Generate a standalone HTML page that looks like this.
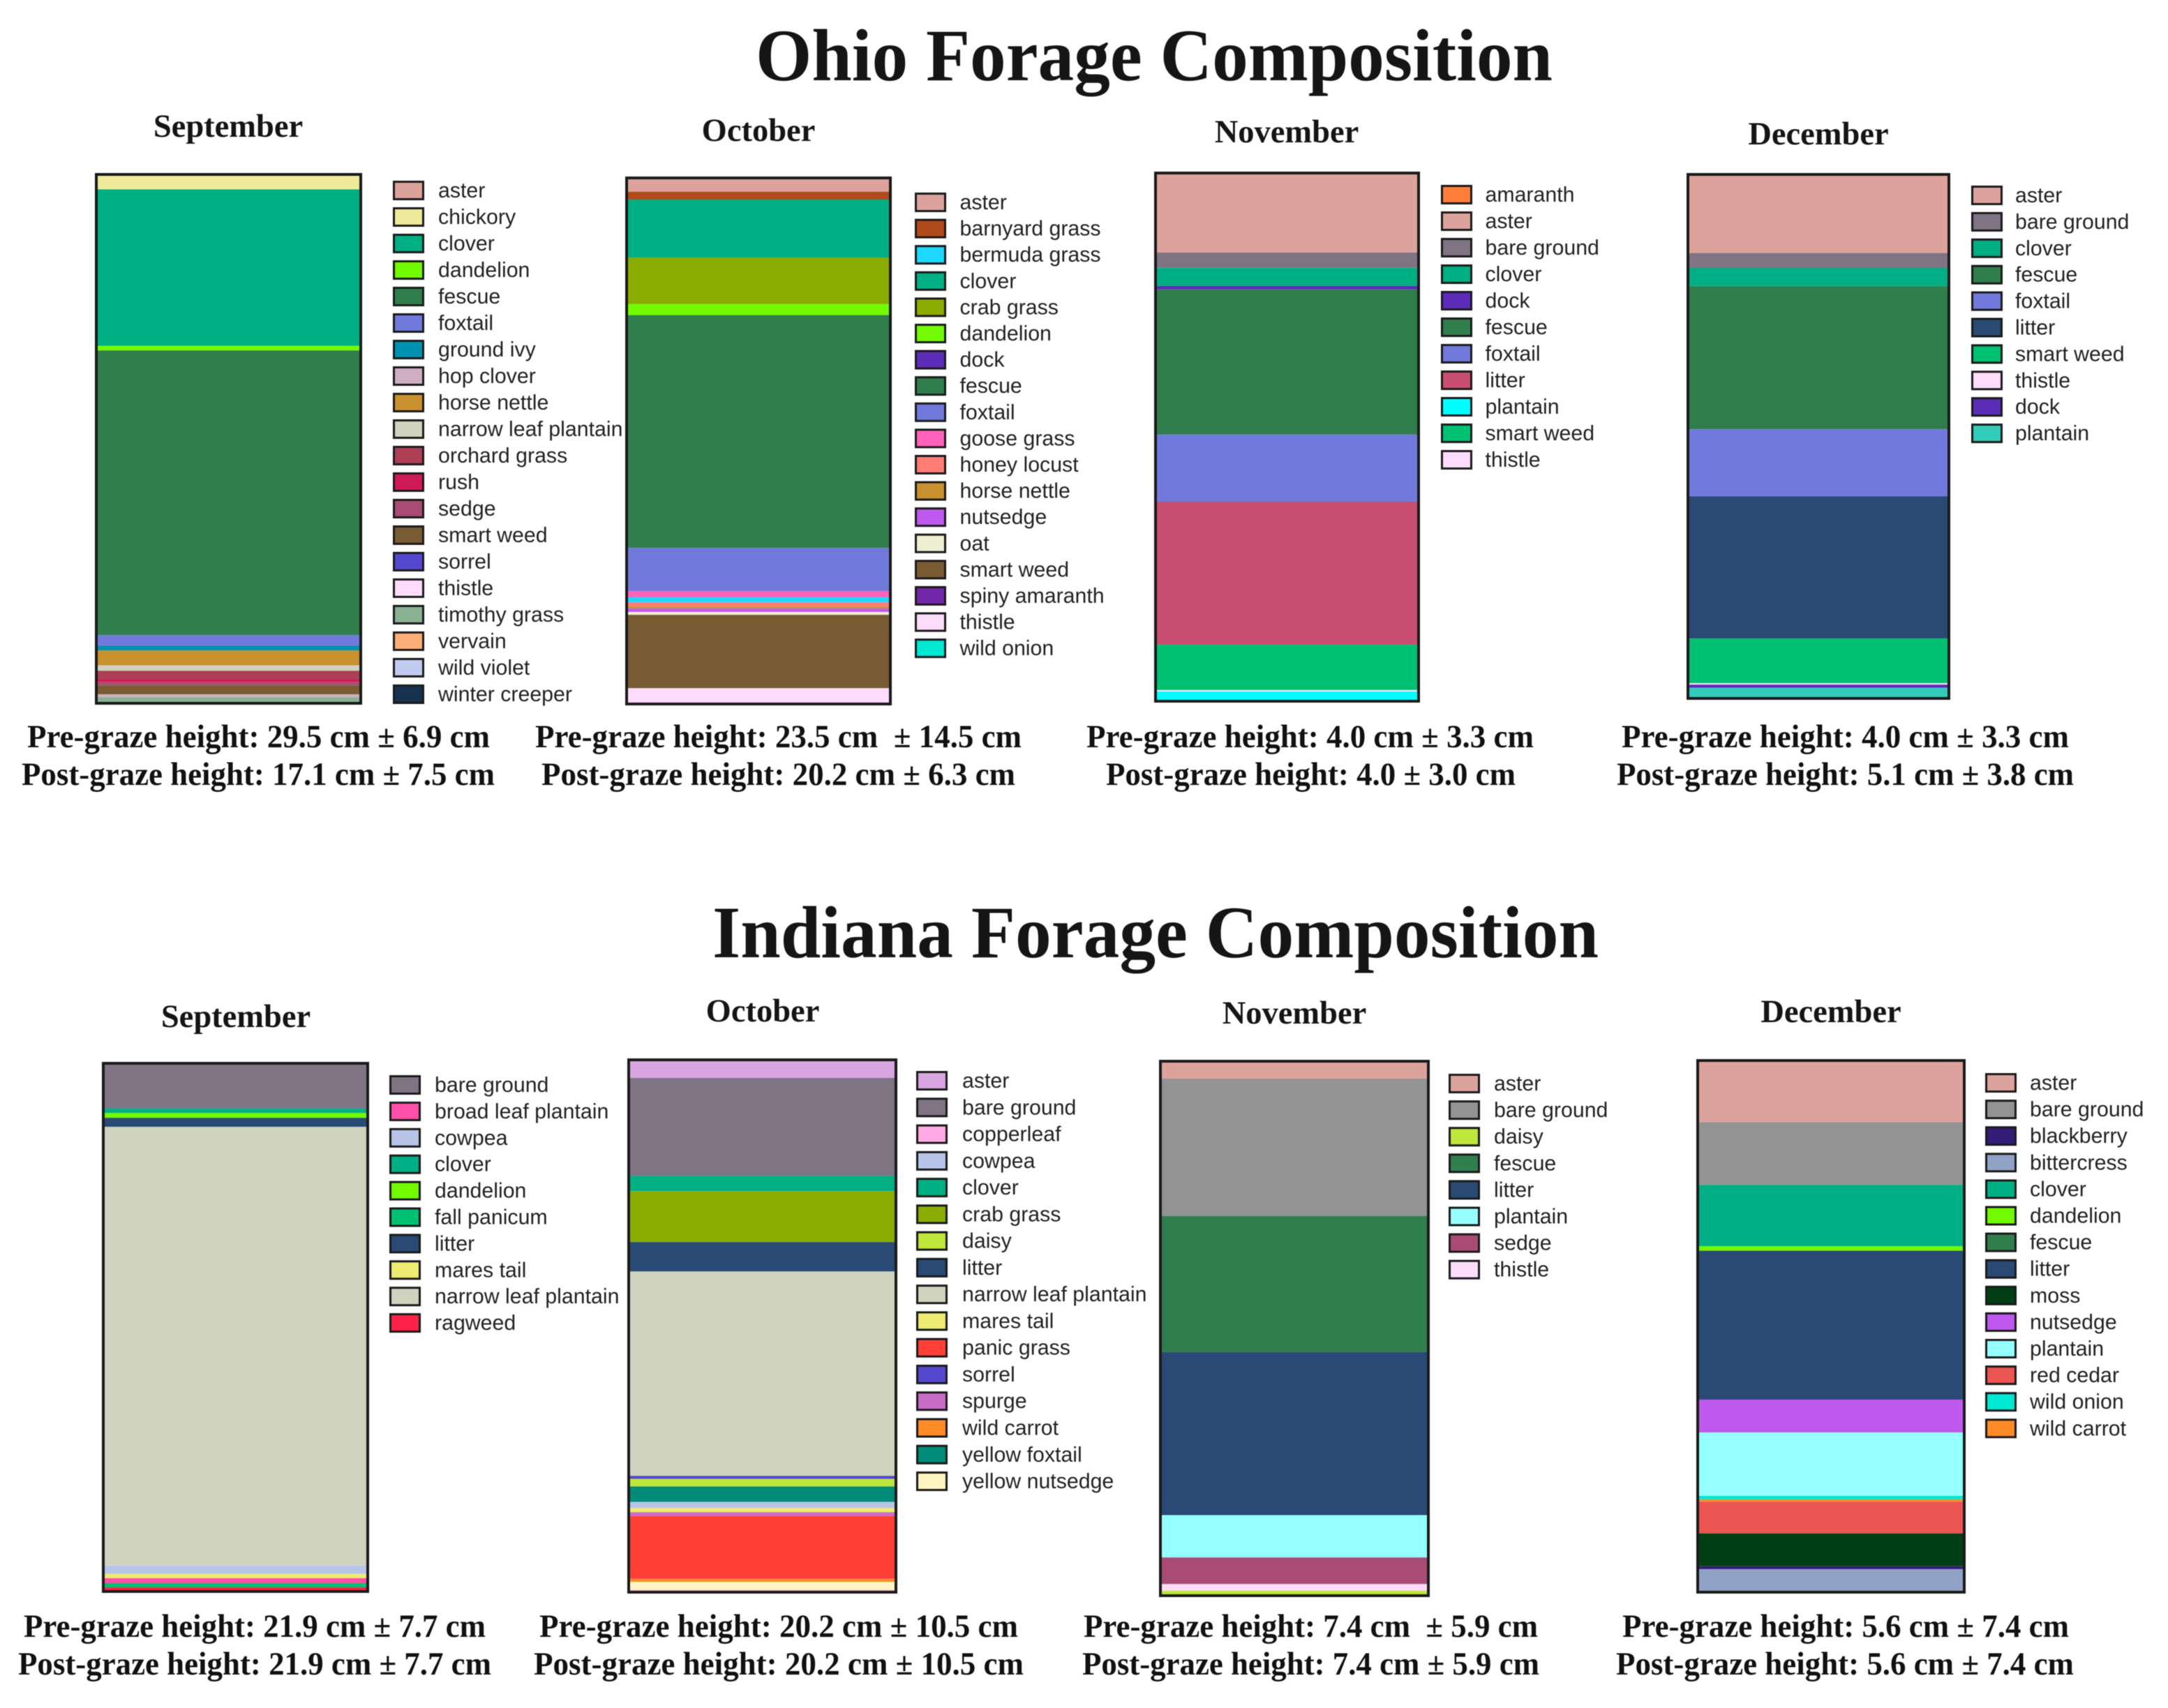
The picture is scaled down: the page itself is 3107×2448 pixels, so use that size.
<!DOCTYPE html>
<html lang="en">
<head>
<meta charset="utf-8">
<title>Ohio and Indiana Forage Composition</title>
<style>
html,body{margin:0;padding:0;background:#fff;}
svg{display:block;filter:blur(0.6px);}
.title{font:bold 106px "Liberation Serif",serif;fill:#151515;}
.month{font:bold 46.5px "Liberation Serif",serif;fill:#151515;text-anchor:middle;}
.height{font:bold 47px "Liberation Serif",serif;fill:#111;white-space:pre;}
.legend-text{font:30.3px "Liberation Sans",sans-serif;fill:#222;}
</style>
</head>
<body>
<svg id="chart" xmlns="http://www.w3.org/2000/svg" width="3107" height="2448" viewBox="0 0 3107 2448">
  <text class="title" x="1083" y="115" textLength="1142" lengthAdjust="spacingAndGlyphs">Ohio Forage Composition</text>
  <text class="title" x="1021" y="1372" textLength="1270" lengthAdjust="spacingAndGlyphs">Indiana Forage Composition</text>

  <text class="month" x="327" y="196">September</text>
  <text class="month" x="1087" y="202">October</text>
  <text class="month" x="1844" y="204">November</text>
  <text class="month" x="2606" y="207">December</text>
  <text class="month" x="338" y="1472">September</text>
  <text class="month" x="1093" y="1464">October</text>
  <text class="month" x="1855" y="1467">November</text>
  <text class="month" x="2624" y="1465">December</text>

  <text class="height" x="39" y="1071" textLength="663" lengthAdjust="spacingAndGlyphs">Pre-graze height: 29.5 cm ± 6.9 cm</text>
  <text class="height" x="31" y="1125" textLength="678" lengthAdjust="spacingAndGlyphs">Post-graze height: 17.1 cm ± 7.5 cm</text>
  <text class="height" x="767" y="1071" textLength="697" lengthAdjust="spacingAndGlyphs">Pre-graze height: 23.5 cm  ± 14.5 cm</text>
  <text class="height" x="776" y="1125" textLength="679" lengthAdjust="spacingAndGlyphs">Post-graze height: 20.2 cm ± 6.3 cm</text>
  <text class="height" x="1557" y="1071" textLength="641" lengthAdjust="spacingAndGlyphs">Pre-graze height: 4.0 cm ± 3.3 cm</text>
  <text class="height" x="1585" y="1125" textLength="587" lengthAdjust="spacingAndGlyphs">Post-graze height: 4.0 ± 3.0 cm</text>
  <text class="height" x="2324" y="1071" textLength="641" lengthAdjust="spacingAndGlyphs">Pre-graze height: 4.0 cm ± 3.3 cm</text>
  <text class="height" x="2317" y="1125" textLength="655" lengthAdjust="spacingAndGlyphs">Post-graze height: 5.1 cm ± 3.8 cm</text>

  <text class="height" x="34" y="2346" textLength="662" lengthAdjust="spacingAndGlyphs">Pre-graze height: 21.9 cm ± 7.7 cm</text>
  <text class="height" x="26" y="2400" textLength="678" lengthAdjust="spacingAndGlyphs">Post-graze height: 21.9 cm ± 7.7 cm</text>
  <text class="height" x="773" y="2346" textLength="686" lengthAdjust="spacingAndGlyphs">Pre-graze height: 20.2 cm ± 10.5 cm</text>
  <text class="height" x="765" y="2400" textLength="702" lengthAdjust="spacingAndGlyphs">Post-graze height: 20.2 cm ± 10.5 cm</text>
  <text class="height" x="1553" y="2346" textLength="651" lengthAdjust="spacingAndGlyphs">Pre-graze height: 7.4 cm  ± 5.9 cm</text>
  <text class="height" x="1551" y="2400" textLength="655" lengthAdjust="spacingAndGlyphs">Post-graze height: 7.4 cm ± 5.9 cm</text>
  <text class="height" x="2325" y="2346" textLength="640" lengthAdjust="spacingAndGlyphs">Pre-graze height: 5.6 cm ± 7.4 cm</text>
  <text class="height" x="2316" y="2400" textLength="656" lengthAdjust="spacingAndGlyphs">Post-graze height: 5.6 cm ± 7.4 cm</text>
</svg>
<script>
// Ohio, September
const ohioSepStack = ["chickory","clover","dandelion","fescue","foxtail","ground ivy","horse nettle","narrow leaf plantain","orchard grass","rush","sedge","smart weed","hop clover","timothy grass","vervain"];
const ohioSepValues = [2.7,29.6,0.9,53.9,2.0,0.9,2.8,1.05,1.6,0.5,0.65,1.7,0.55,0.9,0.3];
const ohioSepLegend = ["aster","chickory","clover","dandelion","fescue","foxtail","ground ivy","hop clover","horse nettle","narrow leaf plantain","orchard grass","rush","sedge","smart weed","sorrel","thistle","timothy grass","vervain","wild violet","winter creeper"];

// Ohio, October
const ohioOctStack = ["aster","barnyard grass","clover","crab grass","dandelion","fescue","foxtail","goose grass","bermuda grass","honey locust","horse nettle","nutsedge","oat","smart weed","thistle"];
const ohioOctValues = [2.5,1.5,11.05,8.9,2.1,44.4,8.25,1.2,0.95,0.8,0.4,0.65,0.55,14.0,2.8];
const ohioOctLegend = ["aster","barnyard grass","bermuda grass","clover","crab grass","dandelion","dock","fescue","foxtail","goose grass","honey locust","horse nettle","nutsedge","oat","smart weed","spiny amaranth","thistle","wild onion"];

// Ohio, November
const ohioNovStack = ["aster","bare ground","clover","dock","fescue","foxtail","litter","smart weed","thistle","plantain"];
const ohioNovValues = [14.85,2.9,3.45,0.65,27.6,12.75,27.2,8.6,0.3,1.7];
const ohioNovLegend = ["amaranth","aster","bare ground","clover","dock","fescue","foxtail","litter","plantain","smart weed","thistle"];

// Ohio, December
const ohioDecStack = ["aster","bare ground","clover","fescue","foxtail","litter","smart weed","thistle","dock","plantain"];
const ohioDecValues = [14.8,2.85,3.5,27.4,12.85,27.25,8.55,0.3,0.6,1.95];
const ohioDecLegend = ["aster","bare ground","clover","fescue","foxtail","litter","smart weed","thistle","dock","plantain"];

// Indiana, September
const indianaSepStack = ["bare ground","clover","dandelion","litter","narrow leaf plantain","cowpea","mares tail","broad leaf plantain","fall panicum","ragweed"];
const indianaSepValues = [8.3,0.85,0.95,1.7,83.4,1.6,0.8,0.95,0.8,0.65];
const indianaSepLegend = ["bare ground","broad leaf plantain","cowpea","clover","dandelion","fall panicum","litter","mares tail","narrow leaf plantain","ragweed"];

// Indiana, October
const indianaOctStack = ["aster","bare ground","clover","crab grass","litter","narrow leaf plantain","sorrel","daisy","yellow foxtail","cowpea","mares tail","spurge","panic grass","wild carrot","yellow nutsedge","copperleaf"];
const indianaOctValues = [3.15,18.45,2.9,9.6,5.55,38.55,0.55,1.45,2.9,1.15,0.8,0.7,11.85,0.6,1.5,0.35];
const indianaOctLegend = ["aster","bare ground","copperleaf","cowpea","clover","crab grass","daisy","litter","narrow leaf plantain","mares tail","panic grass","sorrel","spurge","wild carrot","yellow foxtail","yellow nutsedge"];

// Indiana, November
const indianaNovStack = ["aster","bare ground","fescue","litter","plantain","sedge","thistle","daisy"];
const indianaNovValues = [3.0,25.8,25.55,30.65,7.95,5.0,1.25,0.8];
const indianaNovLegend = ["aster","bare ground","daisy","fescue","litter","plantain","sedge","thistle"];

// Indiana, December
const indianaDecStack = ["aster","bare ground","clover","dandelion","litter","nutsedge","plantain","wild onion","wild carrot","red cedar","moss","blackberry","bittercress"];
const indianaDecValues = [11.4,11.85,11.6,0.85,28.15,6.2,12.0,0.65,0.45,6.0,6.2,0.55,4.1];
const indianaDecLegend = ["aster","bare ground","blackberry","bittercress","clover","dandelion","fescue","litter","moss","nutsedge","plantain","red cedar","wild onion","wild carrot"];

// Species colours and per-panel exceptions
const speciesColors = {
  "aster":"#dba39c","chickory":"#eeea9a","clover":"#00b084","dandelion":"#72fb00","fescue":"#317e4d","foxtail":"#717adb",
  "ground ivy":"#0090b0","hop clover":"#cfaec4","horse nettle":"#c8902e","narrow leaf plantain":"#cfd3be","orchard grass":"#ad3f54",
  "rush":"#cf1a57","sedge":"#a94b75","smart weed":"#795b33","sorrel":"#5448cf","thistle":"#fcdcfa","timothy grass":"#8ab292",
  "vervain":"#fbae75","wild violet":"#c2cbf0","winter creeper":"#17324f","barnyard grass":"#b04a1a","bermuda grass":"#1ed8ff",
  "crab grass":"#8aab00","dock":"#5c2db8","goose grass":"#ff62b8","honey locust":"#ff7d75","nutsedge":"#bf58ec","oat":"#eeeed2",
  "spiny amaranth":"#7027a8","wild onion":"#00e8d2","amaranth":"#ff7f3a","bare ground":"#807384","litter":"#294a75",
  "plantain":"#96ffff","broad leaf plantain":"#ff4fa8","cowpea":"#b8c5e8","fall panicum":"#00c072","mares tail":"#eeeb73",
  "ragweed":"#ff2248","copperleaf":"#ffaae5","daisy":"#bfe63a","panic grass":"#ff3f38","spurge":"#c86cc8","wild carrot":"#ff8a28",
  "yellow foxtail":"#008c78","yellow nutsedge":"#fff5c0","blackberry":"#331b78","bittercress":"#90a2c5","moss":"#003f14","red cedar":"#ec5552"
};
const ohioNovColors = {"litter":"#c84f72","plantain":"#00ffff","smart weed":"#00c072"};
const ohioDecColors = {"plantain":"#33ccbb","smart weed":"#00c072"};
const indianaOctColors = {"aster":"#d9a5e0"};
const indianaNovColors = {"bare ground":"#939393"};
const indianaDecColors = {"bare ground":"#939393"};

// Panel layout: frame box, plot area, legend placement (pixels)
const panels = [
  {id:"ohio-september",stack:ohioSepStack,values:ohioSepValues,legend:ohioSepLegend,colors:{},fx0:136,fx1:519,fy0:248,fy1:1010,py0:251,ph:757,sx:563,tx:628,ly:273,step:38.0},
  {id:"ohio-october",stack:ohioOctStack,values:ohioOctValues,legend:ohioOctLegend,colors:{},fx0:896,fx1:1278,fy0:253,fy1:1011,py0:256,ph:751,sx:1311,tx:1375.5,ly:290,step:37.6},
  {id:"ohio-november",stack:ohioNovStack,values:ohioNovValues,legend:ohioNovLegend,colors:ohioNovColors,fx0:1654,fx1:2035,fy0:246,fy1:1007,py0:250,ph:754,sx:2065,tx:2128.5,ly:279,step:38.0},
  {id:"ohio-december",stack:ohioDecStack,values:ohioDecValues,legend:ohioDecLegend,colors:ohioDecColors,fx0:2417,fx1:2795,fy0:248,fy1:1003,py0:252,ph:748,sx:2825,tx:2888,ly:280,step:37.9},
  {id:"indiana-september",stack:indianaSepStack,values:indianaSepValues,legend:indianaSepLegend,colors:{},fx0:146,fx1:529,fy0:1522,fy1:2283,py0:1526,ph:754,sx:558,tx:623,ly:1555,step:37.9},
  {id:"indiana-october",stack:indianaOctStack,values:indianaOctValues,legend:indianaOctLegend,colors:indianaOctColors,fx0:899,fx1:1286,fy0:1517,fy1:2284,py0:1521,ph:760,sx:1313,tx:1379,ly:1549,step:38.27},
  {id:"indiana-november",stack:indianaNovStack,values:indianaNovValues,legend:indianaNovLegend,colors:indianaNovColors,fx0:1661,fx1:2049,fy0:1519,fy1:2289,py0:1523,ph:763,sx:2076,tx:2141,ly:1553,step:38.1},
  {id:"indiana-december",stack:indianaDecStack,values:indianaDecValues,legend:indianaDecLegend,colors:indianaDecColors,fx0:2431,fx1:2817,fy0:1518,fy1:2284,py0:1522,ph:758,sx:2845,tx:2909,ly:1552,step:38.1}
];

const SVG_NS = "http://www.w3.org/2000/svg";
const chart = document.getElementById("chart");

function slug(s){ return s.replace(/\s+/g,"-"); }
function colorOf(panel, name){ return panel.colors[name] || speciesColors[name]; }
// Vertical axis: cumulative percent of cover (0 at top of the stack) to pixel y
function yScale(panel, pct){ return panel.py0 + pct / 100 * panel.ph; }

function drawPanel(panel){
  const group = document.createElementNS(SVG_NS,"g");
  
  
  chart.appendChild(group);

  let cum = 0;
  panel.stack.forEach(function(name, i){
    const y0 = yScale(panel, cum);
    cum += panel.values[i];
    const y1 = yScale(panel, cum);
    const seg = document.createElementNS(SVG_NS,"rect");
    seg.setAttribute("x", panel.fx0 + 2);
    seg.setAttribute("y", y0);
    seg.setAttribute("width", panel.fx1 - panel.fx0 - 4);
    seg.setAttribute("height", Math.max(y1 - y0, 0));
    seg.setAttribute("fill", colorOf(panel, name));
    
    
    group.appendChild(seg);
  });

  const frame = document.createElementNS(SVG_NS,"rect");
  frame.setAttribute("x", panel.fx0 + 2);
  frame.setAttribute("y", panel.fy0 + 2);
  frame.setAttribute("width", panel.fx1 - panel.fx0 - 4);
  frame.setAttribute("height", panel.fy1 - panel.fy0 - 4);
  frame.setAttribute("fill", "none");
  frame.setAttribute("stroke", "#1a1a1a");
  frame.setAttribute("stroke-width", "4");
  
  
  group.appendChild(frame);

  panel.legend.forEach(function(name, i){
    const cy = panel.ly + i * panel.step;
    const swatch = document.createElementNS(SVG_NS,"rect");
    swatch.setAttribute("x", panel.sx + 1.5);
    swatch.setAttribute("y", cy - 12.5);
    swatch.setAttribute("width", 42);
    swatch.setAttribute("height", 25);
    swatch.setAttribute("fill", colorOf(panel, name));
    swatch.setAttribute("stroke", "#1a1a1a");
    swatch.setAttribute("stroke-width", "3");
    
    
    group.appendChild(swatch);

    const label = document.createElementNS(SVG_NS,"text");
    label.setAttribute("class", "legend-text");
    label.setAttribute("x", panel.tx);
    label.setAttribute("y", cy + 10);
    
    
    label.textContent = name;
    group.appendChild(label);
  });
}

panels.forEach(drawPanel);
</script>
</body>
</html>
